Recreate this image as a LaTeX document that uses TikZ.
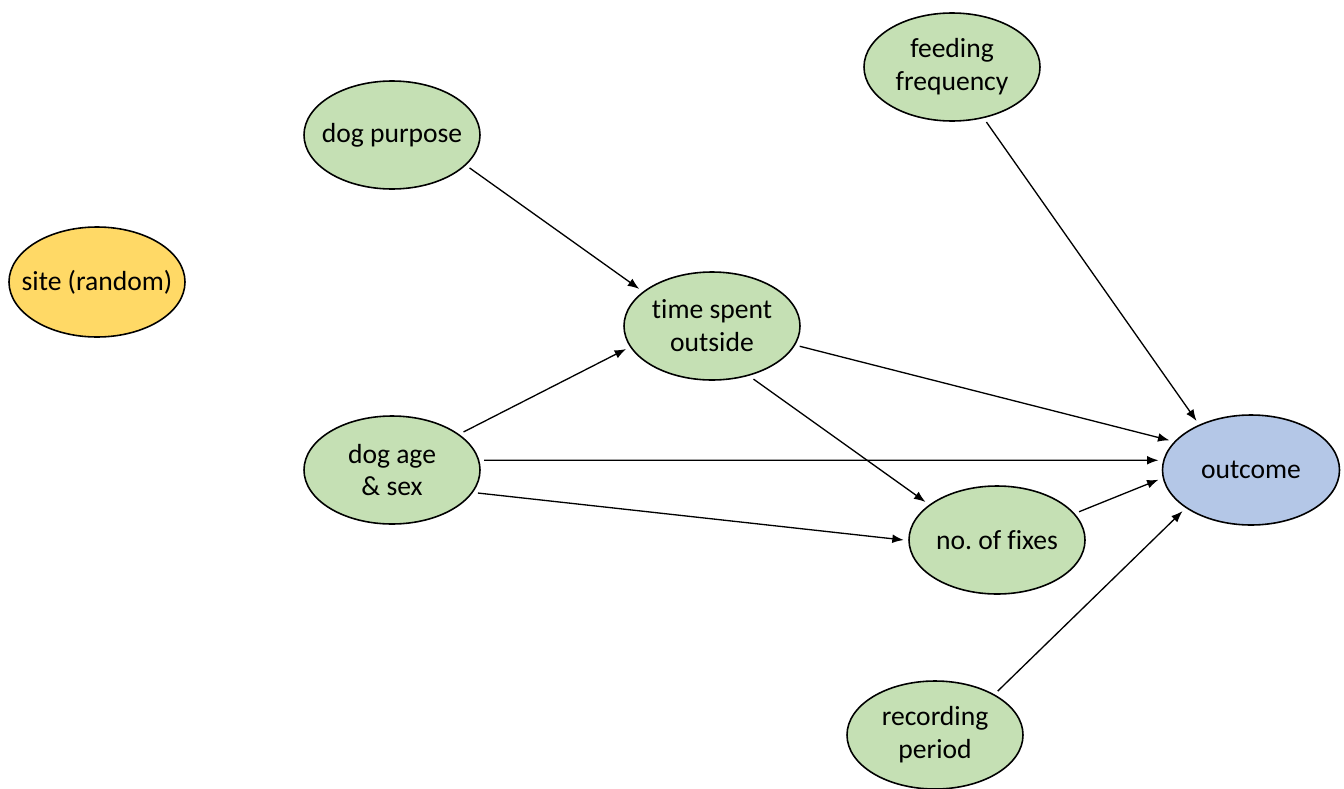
\documentclass[tikz,border=0pt]{standalone}
\usepackage{fontspec}
\setmainfont{Carlito}[RawFeature={-liga;-clig;-calt}]
\usepackage{tikz}
\usetikzlibrary{shapes,arrows,arrows.meta,positioning}
\definecolor{leafgreen}{HTML}{C5E0B4}
\definecolor{sunyellow}{HTML}{FFD966}
\definecolor{paleblue}{HTML}{B4C7E7}
\frenchspacing

\tikzset{
  var/.style={draw, ellipse, fill=leafgreen, line width=0.9pt, minimum width=3.52cm, minimum height=2.16cm, inner xsep=-14pt, inner ysep=0pt, outer sep=3pt, align=center, font=\fontsize{15.7}{18.7}\selectfont},
  link/.style={-{Latex[length=6.5pt,width=5pt]}, line width=0.75pt}
}

\begin{document}
\begin{tikzpicture}
\useasboundingbox (0,0) rectangle (26.88,-15.76);
% nodes
\node[var, fill=sunyellow, minimum height=2.2cm] (site) at (1.94,-5.64) {site (random)};
\node[var] (purpose) at (7.84,-2.70) {dog purpose};
\node[var] (feeding) at (19.04,-1.34) {feeding\\frequency};
\node[var] (outside) at (14.24,-6.52) {time spent\\outside};
\node[var] (agesex) at (7.84,-9.40) {dog age\\\& sex};
\node[var, fill=paleblue, minimum width=3.54cm, minimum height=2.2cm] (outcome) at (25.02,-9.40) {outcome};
\node[var] (fixes) at (19.94,-10.80) {no. of fixes};
\node[var] (period) at (18.70,-14.70) {recording\\period};

% edges
\draw[link] (purpose.-23) -- (outside.153);
\draw[link] (agesex.28) -- (outside.195);
\draw[link] (agesex.6) -- (outcome.174);
\draw[link] (agesex.-15) -- (fixes.180);
\draw[link] (outside.-52) -- (fixes.152);
\draw[link] (outside.-13) -- (outcome.160);
\draw[link] (feeding.-58) -- (outcome.138);
\draw[link] (fixes.19) -- (outcome.186);
\draw[link] (period.35) -- (outcome.211);

\end{tikzpicture}
\end{document}
